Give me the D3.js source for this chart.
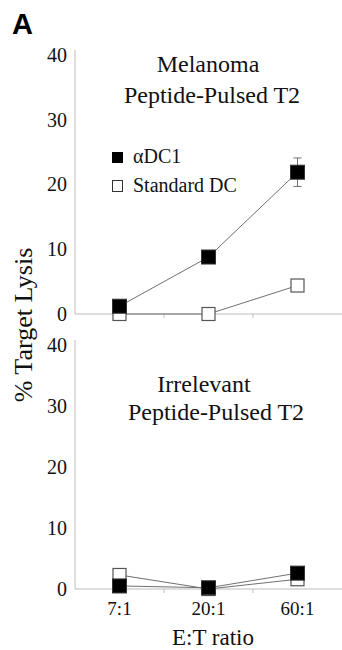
<!DOCTYPE html>
<html>
<head>
<meta charset="utf-8">
<script src="https://cdn.jsdelivr.net/npm/d3@7"></script>
<style>
  body { margin: 0; background: white; }
</style>
</head>
<body>
<div id="chart"></div>
<script>
// data
var ratios = ["7:1", "20:1", "60:1"];
var yTicks = [0, 10, 20, 30, 40];
var melanomaDC1 = [1.2, 8.8, 21.9];
var melanomaDC1Err = [0, 0, 2.2];
var melanomaStd = [0, 0, 4.4];
var irrelevantDC1 = [0.5, 0.2, 2.6];
var irrelevantStd = [2.3, 0, 1.6];
var seriesNames = ["\u03b1DC1", "Standard DC"];

// parameters
var WIDTH = 342;
var HEIGHT = 650;
var MARK = 14;      // marker size
var LINE = "#707070";
var AXIS = "#bdbdbd";
var SERIF = "'Liberation Serif', 'Times New Roman', Times, 'DejaVu Serif', serif";

var svg = d3.select("#chart").append("svg")
  .attr("width", WIDTH)
  .attr("height", HEIGHT)
  .attr("font-family", SERIF)
  .style("font-family", SERIF);

// shared x scale
var x = d3.scaleBand().domain(ratios).range([75, 342]);

// panel y scales
var yTop = d3.scaleLinear().domain([0, 40]).range([314, 55]);
var yBot = d3.scaleLinear().domain([0, 40]).range([589, 345]);

var drawPanel = function(y, dc1, std, err, titles, titleY){
  var g = svg.append("g");

  // y axis line
  g.append("line")
  .attr("x1", x.range()[0]).attr("x2", x.range()[0])
  .attr("y1", y(40) - 5).attr("y2", y(0))
  .style("stroke", AXIS).style("stroke-width", 1);

  // x axis line
  g.append("line")
  .attr("x1", x.range()[0]).attr("x2", x.range()[1])
  .attr("y1", y(0)).attr("y2", y(0))
  .style("stroke", AXIS).style("stroke-width", 1.2);

  // little ticks between categories
  g.selectAll(".xtick")
  .data(ratios.slice(1))
  .enter().append("line")
  .attr("x1", function(d){ return x(d); })
  .attr("x2", function(d){ return x(d); })
  .attr("y1", y(0)).attr("y2", y(0) + 4)
  .style("stroke", AXIS);

  // y tick labels
  g.selectAll(".ylab")
  .data(yTicks)
  .enter().append("text")
  .attr("x", 67)
  .attr("y", function(d){ return y(d); })
  .attr("dy", "0.34em")
  .attr("text-anchor", "end")
  .attr("fill", "#111")
  .style("font-family", SERIF)
  .style("font-size", "20px")
  .text(function(d){ return d; });

  // panel title
  titles.forEach(function(t, i){
    g.append("text")
    .attr("x", t[1])
    .attr("y", titleY[i])
    .attr("text-anchor", "middle")
    .attr("fill", "#111")
    .style("font-family", SERIF)
    .style("font-size", "24px")
    .text(t[0]);
  });

  var line = d3.line()
  .x(function(d, i){ return x(ratios[i]) + x.bandwidth() / 2; })
  .y(function(d){ return y(d); });

  [std, dc1].forEach(function(s){
    g.append("path")
    .datum(s)
    .attr("d", line)
    .style("fill", "none")
    .style("stroke", LINE)
    .style("stroke-width", 1);
  });

  // error bars
  err.forEach(function(e, i){
    if (e == 0) return;
    var cx = x(ratios[i]) + x.bandwidth() / 2;
    g.append("line")
    .attr("x1", cx).attr("x2", cx)
    .attr("y1", y(dc1[i] + e)).attr("y2", y(dc1[i] - e))
    .style("stroke", LINE);
    [dc1[i] + e, dc1[i] - e].forEach(function(v){
      g.append("line")
      .attr("x1", cx - 4).attr("x2", cx + 4)
      .attr("y1", y(v)).attr("y2", y(v))
      .style("stroke", LINE);
    });
  });

  // open squares first, filled on top
  g.selectAll(".std")
  .data(std)
  .enter().append("rect")
  .attr("x", function(d, i){ return x(ratios[i]) + x.bandwidth() / 2 - MARK / 2 + 0.5; })
  .attr("y", function(d){ return y(d) - MARK / 2 + 0.5; })
  .attr("width", MARK - 1).attr("height", MARK - 1)
  .style("fill", "white")
  .style("stroke", "#555")
  .style("stroke-width", 1.2);

  g.selectAll(".dc1")
  .data(dc1)
  .enter().append("rect")
  .attr("x", function(d, i){ return x(ratios[i]) + x.bandwidth() / 2 - MARK / 2; })
  .attr("y", function(d){ return y(d) - MARK / 2; })
  .attr("width", MARK).attr("height", MARK)
  .style("fill", "black")
  .style("stroke", "#333");
};

drawPanel(yTop, melanomaDC1, melanomaStd, melanomaDC1Err,
  [["Melanoma", 208], ["Peptide-Pulsed T2", 212]], [72, 103]);
drawPanel(yBot, irrelevantDC1, irrelevantStd, [0, 0, 0],
  [["Irrelevant", 204], ["Peptide-Pulsed T2", 216]], [392, 420]);

// legend
var legend = svg.append("g");
legend.append("rect")
.attr("x", 112).attr("y", 152).attr("width", 11).attr("height", 11)
.style("fill", "black");
legend.append("rect")
.attr("x", 112.5).attr("y", 180.5).attr("width", 10).attr("height", 11)
.style("fill", "white").style("stroke", "#333").style("stroke-width", 1);
legend.selectAll(".ltext")
.data(seriesNames)
.enter().append("text")
.attr("x", 133)
.attr("y", function(d, i){ return 163 + i * 29; })
.attr("fill", "#111")
.style("font-family", SERIF)
.style("font-size", "20px")
.text(function(d){ return d; });

// x tick labels (bottom panel only)
svg.selectAll(".xlab")
.data(ratios)
.enter().append("text")
.attr("x", function(d){ return x(d) + x.bandwidth() / 2; })
.attr("y", 615)
.attr("text-anchor", "middle")
.attr("fill", "#111")
.style("font-family", SERIF)
.style("font-size", "19px")
.text(function(d){ return d; });

// axis titles
svg.append("text")
.attr("x", 213).attr("y", 645)
.attr("text-anchor", "middle")
.attr("fill", "#111")
.style("font-family", SERIF)
.style("font-size", "23px")
.text("E:T ratio");

svg.append("text")
.attr("transform", "translate(32,325) rotate(-90)")
.attr("text-anchor", "middle")
.attr("fill", "#111")
.style("font-family", SERIF)
.style("font-size", "26px")
.text("% Target Lysis");

// panel letter
svg.append("text")
.attr("x", 12).attr("y", 34)
.attr("fill", "black")
.style("font-family", "'Liberation Sans', Arial, sans-serif")
.style("font-weight", "bold")
.style("font-size", "29px")
.text("A");
</script>
</body>
</html>
